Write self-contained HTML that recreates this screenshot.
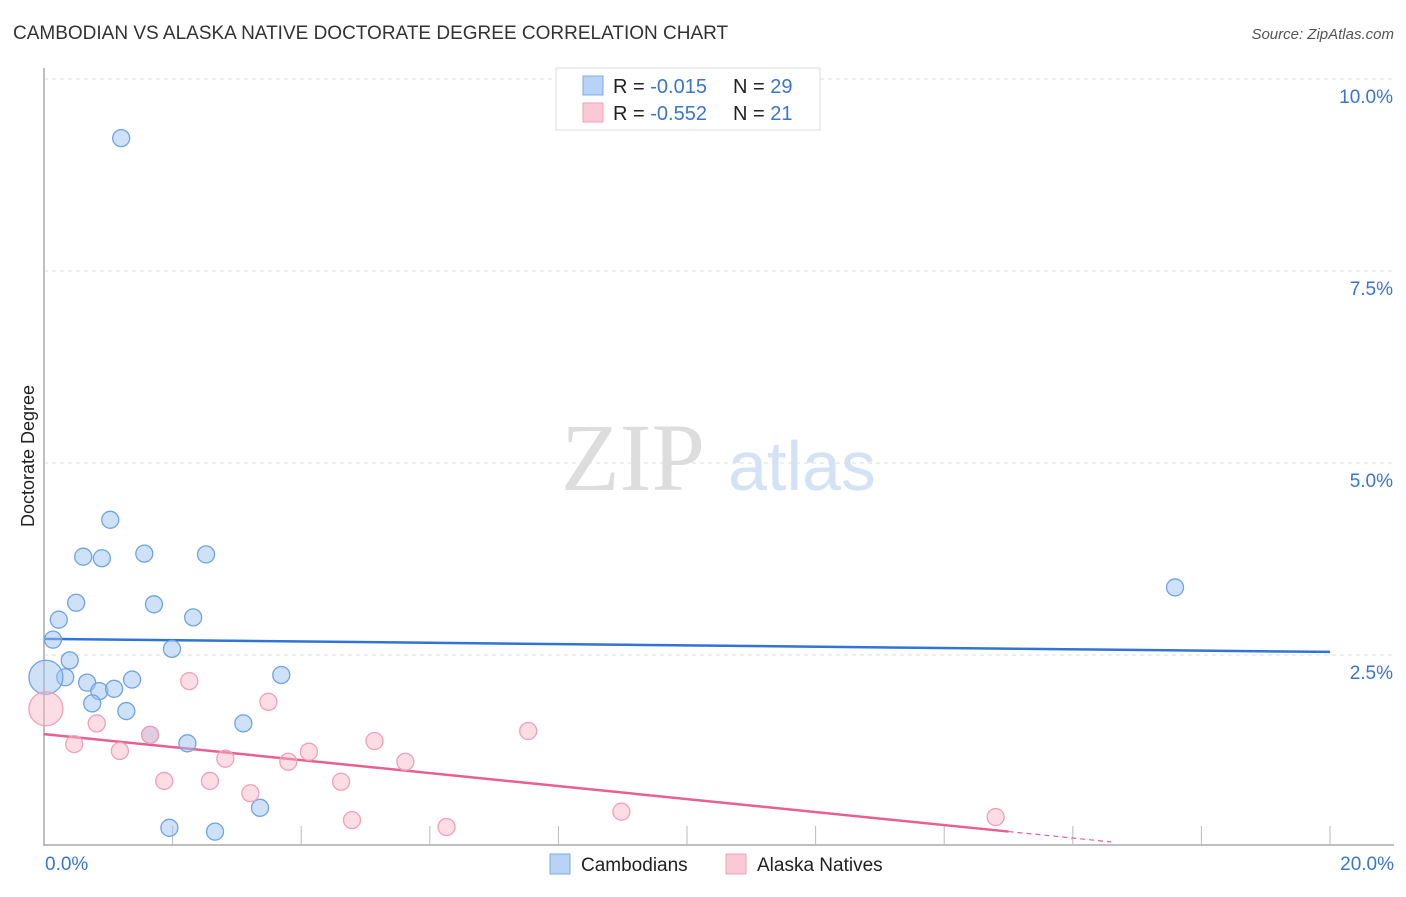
<!DOCTYPE html>
<html><head><meta charset="utf-8"><style>
body{margin:0;background:#fff;font-family:"Liberation Sans",sans-serif;}
</style></head><body>
<svg width="1406" height="892" xmlns="http://www.w3.org/2000/svg" style="font-family:'Liberation Sans',sans-serif">
<text x="13" y="39" font-size="19" fill="#333">CAMBODIAN VS ALASKA NATIVE DOCTORATE DEGREE CORRELATION CHART</text>
<text x="1394" y="39" font-size="15" fill="#555" font-style="italic" text-anchor="end">Source: ZipAtlas.com</text>
<text x="633" y="490" font-size="96" fill="#ddd" font-family="Liberation Serif,serif" text-anchor="middle">ZIP</text>
<text x="802" y="490" font-size="70" fill="#d3e2f4" text-anchor="middle">atlas</text>
<g id="grid"></g>
<g id="axes"></g>
<text transform="translate(34,456) rotate(-90)" font-size="18" fill="#222" text-anchor="middle">Doctorate Degree</text>
<g id="trend"></g>
<g id="pts"></g>
<g>
<rect x="556" y="68" width="264" height="62" fill="#fff" stroke="#ddd"/>
<rect x="583" y="76" width="20" height="19" fill="#b8d3f5" stroke="#7aaee8"/>
<rect x="583" y="103" width="20" height="19" fill="#fbc8d7" stroke="#f0a0b8"/>
<text x="613" y="93" font-size="20" fill="#222">R = <tspan fill="#3a75d0">-0.015</tspan><tspan x="733">N = </tspan><tspan fill="#3a75d0">29</tspan></text>
<text x="613" y="120" font-size="20" fill="#222">R = <tspan fill="#3a75d0">-0.552</tspan><tspan x="733">N = </tspan><tspan fill="#3a75d0"> 21</tspan></text>
</g>
<g>
<rect x="550" y="854" width="20" height="20" fill="#b8d3f5" stroke="#7aaee8"/>
<text x="581" y="871" font-size="19" fill="#222">Cambodians</text>
<rect x="726" y="854" width="20" height="20" fill="#fbc8d7" stroke="#f0a0b8"/>
<text x="757" y="871" font-size="19" fill="#222">Alaska Natives</text>
</g>
</svg>
<script>
const blueX=[1.20,1.03,0.61,1.56,0.90,2.52,0.50,1.71,0.23,2.32,0.14,1.99,0.40,0.33,0.67,1.37,3.69,0.86,1.09,0.75,1.28,3.10,1.65,2.23,3.36,1.95,2.66,17.59,0.03];
const blueY=[9.23,4.26,3.78,3.82,3.76,3.81,3.18,3.16,2.96,2.99,2.70,2.58,2.43,2.21,2.14,2.18,2.24,2.03,2.06,1.87,1.77,1.61,1.46,1.35,0.51,0.25,0.20,3.38,2.21];
const blueBig=[0,0,0,0,0,0,0,0,0,0,0,0,0,0,0,0,0,0,0,0,0,0,0,0,0,0,0,0,1];
const pinkX=[0.03,0.47,0.82,1.18,2.26,1.65,1.87,2.58,2.82,3.21,3.49,3.80,4.12,4.62,4.79,5.14,5.62,6.26,7.53,8.98,14.80];
const pinkY=[1.80,1.34,1.61,1.25,2.16,1.46,0.86,0.86,1.15,0.70,1.89,1.11,1.24,0.85,0.35,1.38,1.11,0.26,1.51,0.46,0.39];
const pinkBig=[1,0,0,0,0,0,0,0,0,0,0,0,0,0,0,0,0,0,0,0,0];
const yTicks=[2.5,5.0,7.5,10.0];
const xTickLabels=["0.0%","20.0%"];
const blueTrend=[2.71,2.54];
const pinkTrend=[1.47,-0.0846];
const NS="http://www.w3.org/2000/svg";
const X=v=>44+v*(1330-44)/20, Y=v=>847-v*76.8;
function mk(p,t,a){const e=document.createElementNS(NS,t);for(const k in a)e.setAttribute(k,a[k]);p.appendChild(e);return e;}
const grid=document.getElementById('grid'),axes=document.getElementById('axes');
yTicks.forEach(t=>{
 const l=mk(grid,'line',{x1:44,x2:1394,y1:Y(t),y2:Y(t),stroke:'#ddd','stroke-dasharray':'4,4'});
 
 
 const tx=mk(axes,'text',{x:1393,y:Y(t)+24,'font-size':19,fill:'#3a75d0','text-anchor':'end'});
 tx.textContent=t.toFixed(1)+'%';
 
 
});
const ya=mk(axes,'line',{x1:44,x2:44,y1:68,y2:846,stroke:'#aaa','stroke-width':1.5});


const xa=mk(axes,'line',{x1:44,x2:1394,y1:845,y2:845,stroke:'#aaa','stroke-width':1.5});


for(let i=1;i<=10;i++){const v=i*2;const t=mk(axes,'line',{x1:X(v),x2:X(v),y1:826,y2:845,stroke:'#bbb'});
 
 }
[[0,'start',45],[20,'end',1394]].forEach((d,i)=>{const t=mk(axes,'text',{x:d[2],y:870,'font-size':19,fill:'#3a75d0','text-anchor':d[1]});t.textContent=xTickLabels[i];
 
 });
const tr=document.getElementById('trend');
const bl=mk(tr,'line',{x1:X(0),y1:Y(blueTrend[0]),x2:X(20),y2:Y(blueTrend[1]),stroke:'#2f74d6','stroke-width':2.5});


const pf=v=>pinkTrend[0]+pinkTrend[1]*v;
const pl=mk(tr,'line',{x1:X(0),y1:Y(pf(0)),x2:X(15.0),y2:Y(pf(15.0)),stroke:'#e8608e','stroke-width':2.5});


const pd=mk(tr,'line',{x1:X(15.0),y1:Y(pf(15.0)),x2:X(16.6),y2:Y(pf(16.6)),stroke:'#e8608e','stroke-width':1.2,'stroke-dasharray':'5,4'});


const pts=document.getElementById('pts');
blueX.forEach((x,i)=>{const c=mk(pts,'circle',{cx:X(x),cy:Y(blueY[i]),r:blueBig[i]?17:8.5,fill:'rgba(160,196,240,0.5)',stroke:'#6fa3e6','stroke-width':1.3});
 
 });
pinkX.forEach((x,i)=>{const c=mk(pts,'circle',{cx:X(x),cy:Y(pinkY[i]),r:pinkBig[i]?17:8.5,fill:'rgba(248,180,200,0.45)',stroke:'#f0a0b8','stroke-width':1.3});
 
 });
</script>
</body></html>
